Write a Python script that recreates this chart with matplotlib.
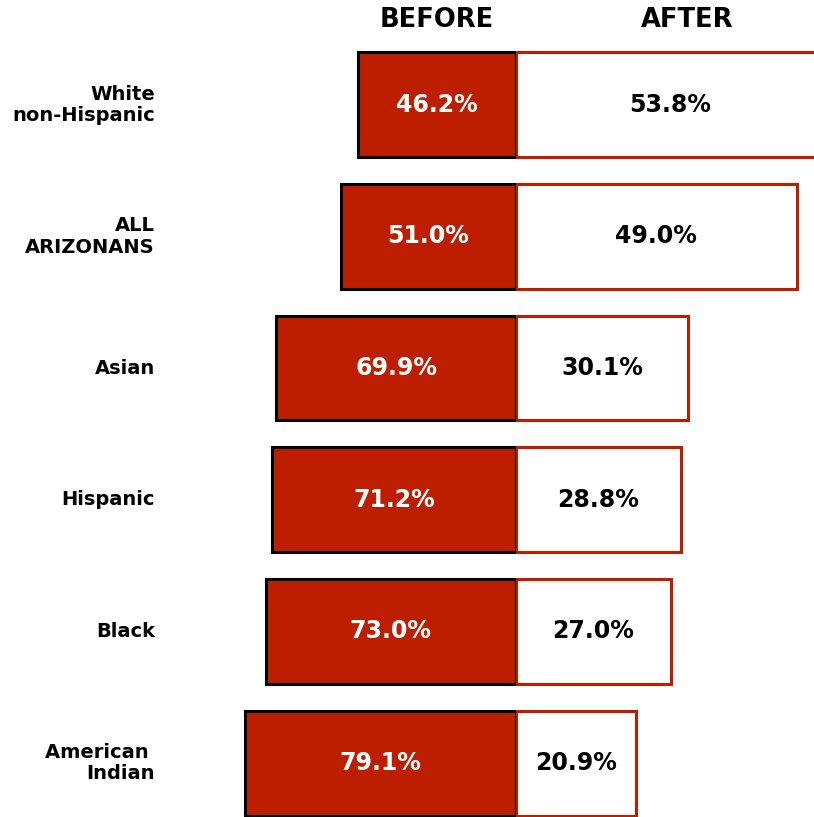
import matplotlib
matplotlib.use("Agg")
import matplotlib.pyplot as plt
from matplotlib.transforms import blended_transform_factory

groups = ["White\nnon-Hispanic", "ALL\nARIZONANS", "Asian", "Hispanic", "Black", "American \nIndian"]
before = [46.2, 51.0, 69.9, 71.2, 73.0, 79.1]
after = [53.8, 49.0, 30.1, 28.8, 27.0, 20.9]
headers = ["BEFORE", "AFTER"]

RED = "#BE1E00"
W, H = 814, 817
fig = plt.figure(figsize=(W / 100, H / 100), dpi=100)
fig.patch.set_facecolor("white")

cx = 516
left_scale = 3.43   # px per %
right_scale = 5.73
row_px = 132
first_center = 105

ax_l = fig.add_axes([0, 0, cx / W, 1])
ax_r = fig.add_axes([cx / W, 0, (W - cx) / W, 1])
ylim = ((H - first_center + 2) / row_px, -first_center / row_px)
for ax in (ax_l, ax_r):
    ax.set_ylim(*ylim)
    ax.axis("off")
    ax.patch.set_alpha(0)
ax_l.set_xlim(-cx / left_scale, 0)
ax_r.set_xlim(0, (W - cx) / right_scale)

ys = list(range(len(groups)))
bh = 105 / row_px
ax_l.barh(ys, [-b for b in before], height=bh, color=RED, edgecolor="black", linewidth=2.2)
ax_r.barh(ys, after, height=bh, color="white", edgecolor=RED, linewidth=2.2)

for y, b, a in zip(ys, before, after):
    ax_l.text(-b / 2, y, f"{b:.1f}%", ha="center", va="center", color="white",
              fontsize=17, fontweight="bold", clip_on=False)
    ax_r.text(a / 2, y, f"{a:.1f}%", ha="center", va="center", color="black",
              fontsize=17, fontweight="bold", clip_on=False)

tr = blended_transform_factory(fig.transFigure, ax_l.transData)
for y, g in zip(ys, groups):
    fig.text(155 / W, y, g, transform=tr, ha="right", va="center", fontsize=14,
             fontweight="bold", linespacing=1.15)

fig.text(437 / W, 1 - 20 / H, headers[0], ha="center", va="center", fontsize=18.5, fontweight="bold")
fig.text(687 / W, 1 - 20 / H, headers[1], ha="center", va="center", fontsize=18.5, fontweight="bold")

fig.savefig("out.png", dpi=100, facecolor="white")
